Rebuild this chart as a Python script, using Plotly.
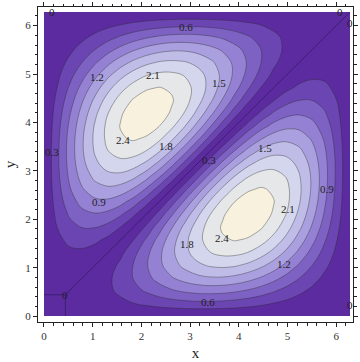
import plotly.graph_objects as go

# grid coordinates (0 .. 2*pi, 25 samples)
x_vals = [0, 0.2618, 0.5236, 0.7854, 1.0472, 1.3090, 1.5708, 1.8326, 2.0944, 2.3562, 2.6180, 2.8798,
          3.1416, 3.4034, 3.6652, 3.9270, 4.1888, 4.4506, 4.7124, 4.9742, 5.2360, 5.4978, 5.7596, 6.0214, 6.2832]
y_vals = [0, 0.2618, 0.5236, 0.7854, 1.0472, 1.3090, 1.5708, 1.8326, 2.0944, 2.3562, 2.6180, 2.8798,
          3.1416, 3.4034, 3.6652, 3.9270, 4.1888, 4.4506, 4.7124, 4.9742, 5.2360, 5.4978, 5.7596, 6.0214, 6.2832]

# z values (rows = y, columns = x)
z_vals = [
    [0, 0, 0, 0, 0, 0, 0, 0, 0, 0, 0, 0, 0, 0, 0, 0, 0, 0, 0, 0, 0, 0, 0, 0, 0],
    [0, 0, .018, .052, .100, .159, .225, .293, .359, .418, .466, .500, .518, .518, .500, .466, .418, .359, .293, .225, .159, .100, .052, .018, 0],
    [0, .018, 0, .052, .134, .241, .366, .500, .634, .759, .866, .948, 1.000, 1.018, 1.000, .948, .866, .759, .634, .500, .366, .241, .134, .052, 0],
    [0, .052, .052, 0, .100, .241, .414, .607, .807, 1.000, 1.173, 1.314, 1.414, 1.466, 1.466, 1.414, 1.314, 1.173, 1.000, .807, .607, .414, .241, .100, 0],
    [0, .100, .134, .100, 0, .159, .366, .607, .866, 1.125, 1.366, 1.573, 1.732, 1.832, 1.866, 1.832, 1.732, 1.573, 1.366, 1.125, .866, .607, .366, .159, 0],
    [0, .159, .241, .241, .159, 0, .225, .500, .807, 1.125, 1.432, 1.707, 1.932, 2.091, 2.173, 2.173, 2.091, 1.932, 1.707, 1.432, 1.125, .807, .500, .225, 0],
    [0, .225, .366, .414, .366, .225, 0, .293, .634, 1.000, 1.366, 1.707, 2.000, 2.225, 2.366, 2.414, 2.366, 2.225, 2.000, 1.707, 1.366, 1.000, .634, .293, 0],
    [0, .293, .500, .607, .607, .500, .293, 0, .359, .759, 1.173, 1.573, 1.932, 2.225, 2.432, 2.539, 2.539, 2.432, 2.225, 1.932, 1.573, 1.173, .759, .359, 0],
    [0, .359, .634, .807, .866, .807, .634, .359, 0, .418, .866, 1.314, 1.732, 2.091, 2.366, 2.539, 2.598, 2.539, 2.366, 2.091, 1.732, 1.314, .866, .418, 0],
    [0, .418, .759, 1.000, 1.125, 1.125, 1.000, .759, .418, 0, .466, .948, 1.414, 1.832, 2.173, 2.414, 2.539, 2.539, 2.414, 2.173, 1.832, 1.414, .948, .466, 0],
    [0, .466, .866, 1.173, 1.366, 1.432, 1.366, 1.173, .866, .466, 0, .500, 1.000, 1.466, 1.866, 2.173, 2.366, 2.432, 2.366, 2.173, 1.866, 1.466, 1.000, .500, 0],
    [0, .500, .948, 1.314, 1.573, 1.707, 1.707, 1.573, 1.314, .948, .500, 0, .518, 1.018, 1.466, 1.832, 2.091, 2.225, 2.225, 2.091, 1.832, 1.466, 1.018, .518, 0],
    [0, .518, 1.000, 1.414, 1.732, 1.932, 2.000, 1.932, 1.732, 1.414, 1.000, .518, 0, .518, 1.000, 1.414, 1.732, 1.932, 2.000, 1.932, 1.732, 1.414, 1.000, .518, 0],
    [0, .518, 1.018, 1.466, 1.832, 2.091, 2.225, 2.225, 2.091, 1.832, 1.466, 1.018, .518, 0, .500, .948, 1.314, 1.573, 1.707, 1.707, 1.573, 1.314, .948, .500, 0],
    [0, .500, 1.000, 1.466, 1.866, 2.173, 2.366, 2.432, 2.366, 2.173, 1.866, 1.466, 1.000, .500, 0, .466, .866, 1.173, 1.366, 1.432, 1.366, 1.173, .866, .466, 0],
    [0, .466, .948, 1.414, 1.832, 2.173, 2.414, 2.539, 2.539, 2.414, 2.173, 1.832, 1.414, .948, .466, 0, .418, .759, 1.000, 1.125, 1.125, 1.000, .759, .418, 0],
    [0, .418, .866, 1.314, 1.732, 2.091, 2.366, 2.539, 2.598, 2.539, 2.366, 2.091, 1.732, 1.314, .866, .418, 0, .359, .634, .807, .866, .807, .634, .359, 0],
    [0, .359, .759, 1.173, 1.573, 1.932, 2.225, 2.432, 2.539, 2.539, 2.432, 2.225, 1.932, 1.573, 1.173, .759, .359, 0, .293, .500, .607, .607, .500, .293, 0],
    [0, .293, .634, 1.000, 1.366, 1.707, 2.000, 2.225, 2.366, 2.414, 2.366, 2.225, 2.000, 1.707, 1.366, 1.000, .634, .293, 0, .225, .366, .414, .366, .225, 0],
    [0, .225, .500, .807, 1.125, 1.432, 1.707, 1.932, 2.091, 2.173, 2.173, 2.091, 1.932, 1.707, 1.432, 1.125, .807, .500, .225, 0, .159, .241, .241, .159, 0],
    [0, .159, .366, .607, .866, 1.125, 1.366, 1.573, 1.732, 1.832, 1.866, 1.832, 1.732, 1.573, 1.366, 1.125, .866, .607, .366, .159, 0, .100, .134, .100, 0],
    [0, .100, .241, .414, .607, .807, 1.000, 1.173, 1.314, 1.414, 1.466, 1.466, 1.414, 1.314, 1.173, 1.000, .807, .607, .414, .241, .100, 0, .052, .052, 0],
    [0, .052, .134, .241, .366, .500, .634, .759, .866, .948, 1.000, 1.018, 1.000, .948, .866, .759, .634, .500, .366, .241, .134, .052, 0, .018, 0],
    [0, .018, .052, .100, .159, .225, .293, .359, .418, .466, .500, .518, .518, .500, .466, .418, .359, .293, .225, .159, .100, .052, .018, 0, 0],
    [0, 0, 0, 0, 0, 0, 0, 0, 0, 0, 0, 0, 0, 0, 0, 0, 0, 0, 0, 0, 0, 0, 0, 0, 0],
]

# zero-level contour drawn by the original
zero_x = [0, 0.44, 0.44, None, 0.44, 6.28]
zero_y = [0.44, 0.44, 0, None, 0.44, 6.28]

# contour labels
label_text = ["0.6", "1.2", "2.1", "1.5", "2.4", "1.8", "0.3", "0.3", "0.9",
              "1.5", "0.9", "2.1", "2.4", "1.8", "1.2", "0.6", "0", "0", "0", "0", "0"]
label_x = [2.91, 1.08, 2.24, 3.59, 1.63, 2.51, 0.16, 3.38, 1.12,
           4.53, 5.80, 5.00, 3.66, 2.93, 4.93, 3.36, 0.16, 6.07, 6.28, 6.28, 0.44]
label_y = [5.98, 4.94, 4.98, 4.81, 3.63, 3.52, 3.38, 3.22, 2.36,
           3.48, 2.62, 2.22, 1.61, 1.49, 1.07, 0.30, 6.28, 6.29, 6.05, 0.22, 0.43]

band_colors = ["#5b2b9f", "#6b45b2", "#7e62c3", "#9481d3", "#aaa0df",
               "#bfbde8", "#d3d6ed", "#e6e7e8", "#f7f1de"]
n = len(band_colors)
colorscale = [[i / (n - 1), c] for i, c in enumerate(band_colors)]

fig = go.Figure()
fig.add_trace(go.Contour(
    x=x_vals, y=y_vals, z=z_vals,
    colorscale=colorscale, showscale=False,
    contours=dict(start=0.3, end=2.4, size=0.3, coloring="fill", showlabels=False),
    line=dict(color="rgba(40,40,40,0.55)", width=0.7, smoothing=1.0),
    hoverinfo="skip",
))
fig.add_trace(go.Scatter(
    x=zero_x, y=zero_y, mode="lines",
    line=dict(color="rgba(40,20,80,0.7)", width=0.8),
    hoverinfo="skip", showlegend=False,
))

for t, lx, ly in zip(label_text, label_x, label_y):
    fig.add_annotation(x=lx, y=ly, text=t, showarrow=False,
                       font=dict(family="Liberation Serif", size=11, color="#222"))

axis_common = dict(
    showgrid=False, zeroline=False, showline=True, linecolor="#222", linewidth=1,
    mirror="ticks", ticks="outside", ticklen=4, tickcolor="#222", tickwidth=1,
    dtick=1, tick0=0,
    minor=dict(ticks="outside", ticklen=2.5, dtick=0.2, tick0=0, tickcolor="#222", showgrid=False),
    tickfont=dict(family="Liberation Serif", size=11, color="#333"),
)

fig.update_layout(
    width=360, height=362,
    margin=dict(l=38, r=4, t=2, b=40),
    paper_bgcolor="white", plot_bgcolor="white",
    showlegend=False,
    xaxis=dict(range=[-0.122, 6.344], title=dict(text="x", font=dict(family="Liberation Serif", size=15, color="#222"), standoff=6), **axis_common),
    yaxis=dict(range=[-0.122, 6.385], title=dict(text="y", font=dict(family="Liberation Serif", size=15, color="#222"), standoff=6), **axis_common),
)

fig.write_html("out.html")
